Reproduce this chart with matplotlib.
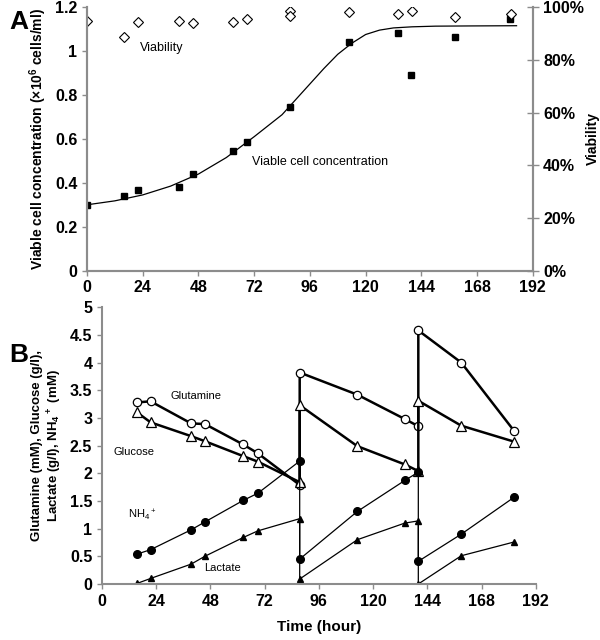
import matplotlib.pyplot as plt
from matplotlib.ticker import PercentFormatter

plt.rcParams['font.family'] = ['Liberation Sans', 'DejaVu Sans']
plt.rcParams['font.weight'] = 'bold'
plt.rcParams['axes.labelweight'] = 'bold'
plt.rcParams['mathtext.default'] = 'regular'

# panel A data
t_a = [0, 16, 22, 39.5, 45.5, 63, 69, 87.5, 113, 134, 139.5, 158.5, 182]
vcc = [0.30, 0.341, 0.368, 0.383, 0.442, 0.545, 0.585, 0.745, 1.042, 1.08, 0.892, 1.062, 1.145]
t_via = [0, 16, 22, 39.5, 45.5, 63, 69, 87.5, 87.5, 113, 134, 140, 158.5, 182.5]
viab = [94.8, 88.8, 94.3, 94.8, 94.1, 94.3, 95.5, 98.4, 96.6, 98.2, 97.3, 98.5, 96.3, 97.5]
# fitted growth curve
t_fit = [0, 12, 24, 36, 48, 60, 72, 84, 90, 96, 102, 108, 114, 120, 126, 132, 140, 150, 165, 185]
v_fit = [0.30, 0.318, 0.345, 0.385, 0.44, 0.515, 0.61, 0.71, 0.78, 0.85, 0.92, 0.985, 1.035, 1.075,
         1.095, 1.105, 1.11, 1.113, 1.114, 1.115]

# panel B data (vertical jumps at feeding times)
t_gln = [15.5, 21.5, 39.5, 45.5, 62.5, 69, 87.5, 87.5, 113, 134, 140, 140, 159, 182.5]
gln = [3.28, 3.30, 2.90, 2.89, 2.52, 2.36, 1.79, 3.82, 3.42, 2.98, 2.85, 4.58, 4.00, 2.76]
glc = [3.10, 2.92, 2.67, 2.58, 2.31, 2.21, 1.84, 3.23, 2.49, 2.16, 2.04, 3.31, 2.86, 2.57]
nh4 = [0.54, 0.62, 0.98, 1.12, 1.51, 1.64, 2.22, 0.45, 1.31, 1.87, 2.02, 0.41, 0.90, 1.57]
lac = [0.01, 0.10, 0.36, 0.50, 0.84, 0.96, 1.18, 0.09, 0.80, 1.10, 1.14, 0.00, 0.51, 0.76]

xticks = [0, 24, 48, 72, 96, 120, 144, 168, 192]
grey = '#8c8c8c'

fig = plt.figure(figsize=(6, 6.4), dpi=100)

# ---- A ----
ax = fig.add_axes([0.145, 0.577, 0.743, 0.412])
ax.plot(t_fit, v_fit, color='black', lw=0.9)
ax.plot(t_a, vcc, marker='s', color='black', ms=5, linestyle='None')
ax.set_xlim(0, 192)
ax.set_ylim(0, 1.2)
ax.set_xticks(xticks)
ax.set_yticks([0, 0.2, 0.4, 0.6, 0.8, 1, 1.2])
ax.set_yticklabels(['0', '0.2', '0.4', '0.6', '0.8', '1', '1.2'])
ax.set_ylabel('Viable cell concentration (×10$^6$ cells/ml)', fontsize=10, fontweight='bold')
ax.text(23, 1.014, 'Viability', fontsize=9, fontweight='normal', va='center')
ax.text(71, 0.495, 'Viable cell concentration', fontsize=9, fontweight='normal', va='center')

ax2 = ax.twinx()
ax2.plot(t_via, viab, marker='D', markerfacecolor='white', markeredgecolor='black', ms=5,
         mew=0.8, linestyle='None')
ax2.set_ylim(0, 100)
ax2.set_yticks([0, 20, 40, 60, 80, 100])
ax2.yaxis.set_major_formatter(PercentFormatter(decimals=0))
ax2.set_ylabel('Viability', fontsize=10, fontweight='bold', labelpad=1)
ax2.tick_params(axis='y', direction='inout', length=8)

for a in (ax, ax2):
    a.spines['top'].set_visible(False)
    for s in ('left', 'right', 'bottom'):
        a.spines[s].set_color(grey)
        a.spines[s].set_linewidth(1.5)
    a.tick_params(colors=grey, labelcolor='black', labelsize=11.5, width=1)
fig.text(0.015, 0.955, 'A', fontsize=19, fontweight='bold')

# ---- B ----
bx = fig.add_axes([0.17, 0.0875, 0.723, 0.4325])
bx.plot(t_gln, gln, color='black', lw=1.8, marker='o', markerfacecolor='white', ms=6, mew=0.9)
bx.plot(t_gln, glc, color='black', lw=1.8, marker='^', markerfacecolor='white', ms=7.5, mew=0.9)
bx.plot(t_gln, nh4, color='black', lw=0.9, marker='o', ms=5.5)
bx.plot(t_gln, lac, color='black', lw=0.9, marker='^', ms=4.5)
bx.set_xlim(0, 192)
bx.set_ylim(0, 5)
bx.set_xticks(xticks)
bx.set_yticks([0, 0.5, 1, 1.5, 2, 2.5, 3, 3.5, 4, 4.5, 5])
bx.set_yticklabels(['0', '0.5', '1', '1.5', '2', '2.5', '3', '3.5', '4', '4.5', '5'])
bx.set_xlabel('Time (hour)', fontsize=11, fontweight='bold', labelpad=8)
bx.set_ylabel('Glutamine (mM), Glucose (g/l),\nLactate (g/l), NH$_4$$^+$ (mM)',
              fontsize=9.5, fontweight='bold')
bx.text(30.4, 3.39, 'Glutamine', fontsize=8, fontweight='normal', va='center')
bx.text(5.3, 2.39, 'Glucose', fontsize=8, fontweight='normal', va='center')
bx.text(11.4, 1.24, 'NH$_4$$^+$', fontsize=8, fontweight='normal', va='center')
bx.text(45.2, 0.28, 'Lactate', fontsize=8, fontweight='normal', va='center')
bx.spines['top'].set_visible(False)
bx.spines['right'].set_visible(False)
for s in ('left', 'bottom'):
    bx.spines[s].set_color(grey)
    bx.spines[s].set_linewidth(1.5)
bx.tick_params(colors=grey, labelcolor='black', labelsize=11.5, width=1)
fig.text(0.015, 0.434, 'B', fontsize=19, fontweight='bold')

plt.savefig('out.png', dpi=100)
